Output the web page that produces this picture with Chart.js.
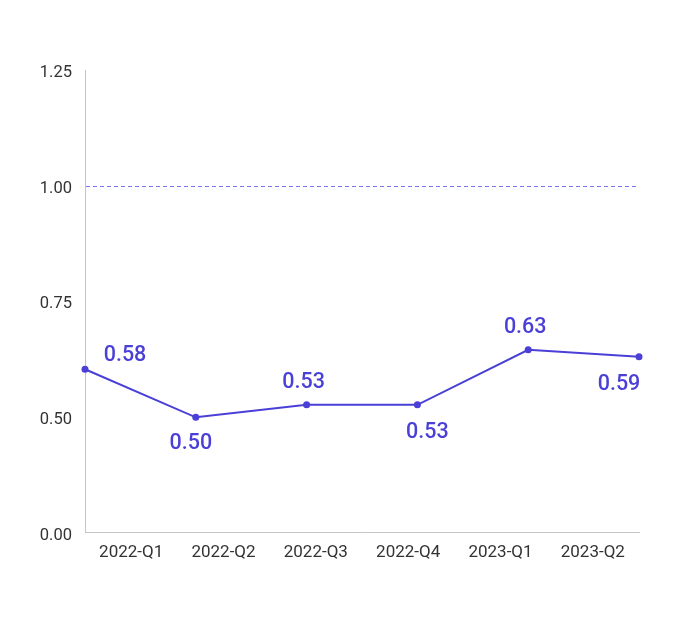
<!DOCTYPE html>
<html>
<head>
<meta charset="utf-8">
<script src="https://cdn.jsdelivr.net/npm/chart.js@4.4.0/dist/chart.umd.min.js"></script>
<style>
  html, body { margin: 0; padding: 0; background: #ffffff; }
  #wrap { width: 684px; height: 627px; }
</style>
</head>
<body>
<div id="wrap"><canvas id="c" width="684" height="627"></canvas></div>
<script>
// ---- data ----
const categories = ['2022-Q1', '2022-Q2', '2022-Q3', '2022-Q4', '2023-Q1', '2023-Q2'];
const seriesValues = [0.603, 0.499, 0.526, 0.526, 0.645, 0.630];
const valueLabels = ['0.58', '0.50', '0.53', '0.53', '0.63', '0.59'];
const yTickValues = [0.25, 0.50, 0.75, 1.00, 1.25];
const yTickLabels = ['0.00', '0.50', '0.75', '1.00', '1.25'];
const referenceValue = 1.00;

const LINE_COLOR = '#4a3fd6';
const REF_COLOR = '#7a72ee';
const TEXT_COLOR = '#333333';
const AXIS_COLOR = '#c4c4c8';
const FONT_FAMILY = 'Roboto, "Noto Sans", sans-serif';

const refLinePlugin = {
  id: 'refLine',
  beforeDatasetsDraw(chart) {
    const { ctx, chartArea } = chart;
    const y = chart.scales.y.getPixelForValue(referenceValue);
    ctx.save();
    ctx.strokeStyle = REF_COLOR;
    ctx.lineWidth = 1;
    ctx.setLineDash([4, 3]);
    ctx.beginPath();
    ctx.moveTo(chartArea.left + 1, Math.round(y) + 0.5);
    ctx.lineTo(chartArea.right, Math.round(y) + 0.5);
    ctx.stroke();
    ctx.restore();
  }
};

const labelPlugin = {
  id: 'valueLabels',
  afterDatasetsDraw(chart, args, opts) {
    const { ctx } = chart;
    const meta = chart.getDatasetMeta(0);
    ctx.save();
    ctx.font = '500 21.5px ' + FONT_FAMILY;
    ctx.fillStyle = LINE_COLOR;
    ctx.textBaseline = 'middle';
    ctx.textAlign = 'center';
    meta.data.forEach((pt, i) => {
      ctx.fillText(valueLabels[i], pt.x + opts.dx[i], pt.y + opts.dy[i]);
    });
    ctx.restore();
  }
};

new Chart(document.getElementById('c'), {
  type: 'line',
  data: {
    labels: categories,
    datasets: [{
      data: seriesValues,
      xAxisID: 'xData',
      borderColor: LINE_COLOR,
      backgroundColor: LINE_COLOR,
      borderWidth: 2,
      pointRadius: 3.5,
      pointHoverRadius: 3.5,
      pointBackgroundColor: LINE_COLOR,
      pointBorderWidth: 0,
      tension: 0,
      fill: false,
      clip: false
    }]
  },
  options: {
    responsive: false,
    animation: false,
    devicePixelRatio: 1,
    layout: { padding: { left: 0, right: 45, top: 70, bottom: 0 } },
    plugins: {
      legend: { display: false },
      tooltip: { enabled: false },
      valueLabels: {
        dx: [40, -5, -3, 10, -3, -20],
        dy: [-14, 26, -22.5, 28, -22, 27.5]
      }
    },
    scales: {
      x: {
        type: 'category',
        labels: categories,
        offset: true,
        position: 'bottom',
        grid: { display: false, drawTicks: false },
        border: { display: true, color: AXIS_COLOR, width: 1 },
        ticks: {
          color: TEXT_COLOR,
          font: { family: FONT_FAMILY, size: 17 },
          padding: 10,
          maxRotation: 0,
          autoSkip: false
        },
        afterFit(scale) { scale.height = 94.5; }
      },
      xData: {
        type: 'category',
        labels: categories,
        offset: false,
        display: false
      },
      y: {
        type: 'linear',
        min: 0.25,
        max: 1.25,
        grid: { display: false, drawTicks: false },
        border: { display: true, color: AXIS_COLOR, width: 1 },
        afterBuildTicks(scale) {
          scale.ticks = yTickValues.map(v => ({ value: v }));
        },
        ticks: {
          color: TEXT_COLOR,
          font: { family: FONT_FAMILY, size: 16.5 },
          padding: 13,
          labelOffset: 3,
          callback(value) {
            const idx = yTickValues.findIndex(v => Math.abs(v - value) < 1e-9);
            return idx >= 0 ? yTickLabels[idx] : '';
          }
        },
        afterFit(scale) { scale.width = 85; }
      }
    }
  },
  plugins: [refLinePlugin, labelPlugin]
});
</script>
</body>
</html>
